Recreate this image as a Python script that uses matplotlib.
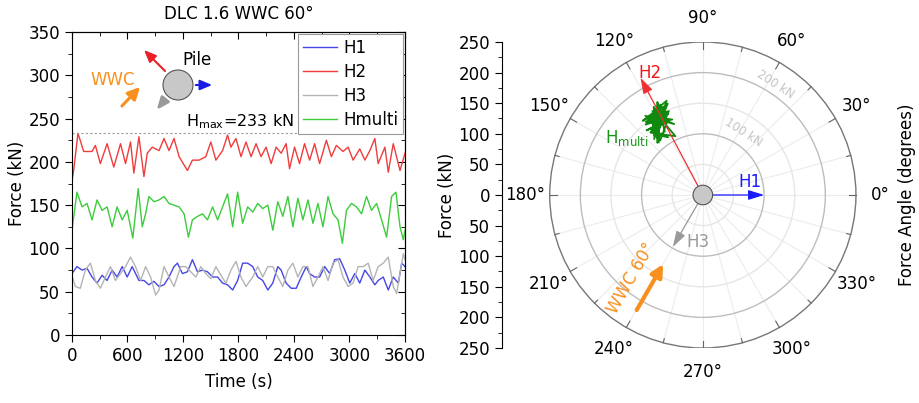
import numpy as np
import matplotlib
matplotlib.use("Agg")
import matplotlib.pyplot as plt
from matplotlib.patches import Circle

plt.rcParams['font.family'] = ['DejaVu Sans']
plt.rcParams['font.size'] = 12

# --- time series (time in s, force in kN) ---
t_h1 = [0, 54, 109, 163, 217, 271, 326, 380, 434, 488, 543, 597, 651, 724, 778, 832, 886, 941, 995, 1049,
        1103, 1140, 1194, 1248, 1302, 1357, 1411, 1465, 1520, 1574, 1628, 1682, 1737, 1791, 1845, 1899, 1954,
        2008, 2062, 2117, 2171, 2225, 2261, 2315, 2370, 2424, 2478, 2533, 2569, 2623, 2677, 2732, 2786, 2840,
        2894, 2949, 3003, 3057, 3111, 3166, 3220, 3274, 3310, 3365, 3419, 3473, 3528, 3564, 3600]
h1 = [71, 79, 75, 77, 67, 60, 69, 63, 75, 67, 79, 67, 79, 63, 63, 58, 62, 56, 58, 67,
      79, 83, 71, 73, 87, 73, 75, 73, 67, 67, 60, 58, 52, 63, 83, 83, 79, 67, 63, 52,
      60, 79, 75, 60, 54, 54, 67, 79, 71, 67, 67, 79, 71, 87, 88, 75, 60, 71, 60, 75,
      67, 58, 63, 67, 52, 67, 60, 83, 79]

t_h2 = [0, 18, 65, 127, 217, 253, 307, 380, 452, 525, 579, 633, 669, 724, 778, 814, 868, 941, 995, 1049,
        1103, 1158, 1248, 1302, 1375, 1447, 1501, 1556, 1628, 1682, 1718, 1773, 1827, 1881, 1936, 1990,
        2044, 2098, 2153, 2207, 2261, 2315, 2352, 2406, 2460, 2514, 2569, 2623, 2677, 2750, 2804, 2858,
        2930, 2985, 3039, 3111, 3166, 3220, 3274, 3310, 3383, 3419, 3473, 3546, 3600]
h2 = [178, 190, 233, 212, 212, 219, 198, 221, 194, 221, 198, 223, 187, 229, 183, 210, 217, 213, 227, 213,
      227, 206, 190, 202, 202, 206, 223, 202, 213, 231, 217, 227, 206, 223, 206, 221, 206, 217, 198, 217,
      210, 221, 192, 217, 198, 221, 202, 221, 198, 225, 206, 219, 212, 217, 202, 215, 202, 213, 227, 198,
      217, 188, 221, 190, 210]

t_h3 = [0, 36, 90, 145, 199, 253, 307, 362, 416, 470, 525, 579, 633, 687, 742, 796, 850, 905, 941, 995,
        1049, 1103, 1176, 1230, 1284, 1339, 1393, 1447, 1501, 1556, 1610, 1664, 1719, 1773, 1827, 1881,
        1954, 2008, 2062, 2117, 2171, 2225, 2279, 2334, 2388, 2442, 2496, 2551, 2605, 2659, 2713, 2768,
        2822, 2876, 2930, 2985, 3039, 3093, 3148, 3202, 3256, 3310, 3365, 3419, 3473, 3510, 3546, 3582, 3600]
h3 = [69, 56, 54, 75, 83, 63, 54, 67, 79, 63, 71, 79, 90, 79, 63, 79, 67, 46, 52, 79,
      67, 56, 79, 79, 73, 67, 79, 71, 65, 79, 69, 60, 75, 85, 67, 56, 67, 79, 67, 79,
      79, 67, 56, 75, 83, 67, 79, 79, 56, 67, 79, 63, 83, 87, 67, 56, 60, 79, 79, 83,
      63, 79, 83, 90, 56, 48, 71, 94, 87]

t_hm = [0, 54, 109, 163, 217, 271, 326, 380, 434, 488, 543, 597, 658, 716, 760, 796, 832, 886, 941, 995,
        1049, 1103, 1158, 1212, 1259, 1302, 1357, 1411, 1465, 1520, 1574, 1628, 1682, 1737, 1791, 1845,
        1899, 1954, 2008, 2062, 2117, 2171, 2225, 2279, 2334, 2388, 2442, 2496, 2551, 2605, 2659, 2713,
        2768, 2822, 2876, 2923, 2967, 3021, 3075, 3130, 3184, 3238, 3293, 3347, 3401, 3455, 3502, 3546,
        3582, 3600]
hm = [121, 165, 148, 152, 133, 156, 144, 148, 125, 148, 133, 144, 112, 169, 125, 140, 160, 154, 156, 160,
      152, 150, 148, 140, 113, 133, 137, 140, 133, 148, 133, 148, 163, 125, 165, 129, 148, 142, 152, 146,
      150, 121, 154, 137, 160, 125, 158, 133, 156, 129, 152, 125, 160, 140, 133, 106, 144, 152, 148, 140,
      160, 144, 152, 133, 113, 160, 165, 125, 110, 121]
# direction of the Hmulti resultant (degrees), same samples
hm_ang = [121, 116, 126, 119, 129, 114, 123, 117, 127, 121, 112, 125, 130, 116, 126, 119, 111, 123, 129, 115,
          121, 127, 113, 124, 128, 116, 122, 131, 119, 112, 127, 121, 115, 129, 119, 124, 113, 122, 128, 116,
          121, 131, 115, 126, 119, 129, 113, 124, 117, 128, 121, 112, 126, 122, 130, 115, 119, 124, 129, 116,
          121, 113, 126, 122, 131, 117, 111, 128, 121, 124]

h_max = 233
# mean force vectors on the polar plot: (angle deg, magnitude kN)
h1_vec = (0, 100)
h2_vec = (118, 217)
h3_vec = (240, 98)
wwc_dir = 60

c_h1, c_h2, c_h3, c_hm = '#4646e6', '#f03c3c', '#b4b4b4', '#3ccc3c'
orange = '#f7901e'

fig = plt.figure(figsize=(9.19, 4.03), dpi=100)

# ---------------- left: time series ----------------
ax = fig.add_axes([0.0783, 0.1687, 0.3624, 0.7519])
ax.plot(t_h1, h1, color=c_h1, lw=1.0, label='H1')
ax.plot(t_h2, h2, color=c_h2, lw=1.0, label='H2')
ax.plot(t_h3, h3, color=c_h3, lw=1.0, label='H3')
ax.plot(t_hm, hm, color=c_hm, lw=1.0, label='Hmulti')
ax.axhline(h_max, color='#999999', lw=0.8, ls=(0, (2, 2)))
ax.set_xlim(0, 3600)
ax.set_ylim(0, 350)
ax.set_xticks(range(0, 3601, 600))
ax.set_xticks(range(0, 3601, 300), minor=True)
ax.set_yticks(range(0, 351, 50))
ax.set_yticks(range(0, 351, 25), minor=True)
ax.tick_params(which='major', direction='out', length=5)
ax.tick_params(which='minor', direction='out', length=3)
ax.set_xlabel('Time (s)', labelpad=6)
ax.set_ylabel('Force (kN)', labelpad=2)
ax.set_title('DLC 1.6 WWC 60\u00b0', fontsize=12, pad=9)
sec = ax.secondary_xaxis('top')
sec.set_xticks(range(0, 3601, 600))
sec.set_xticks(range(0, 3601, 300), minor=True)
sec.tick_params(which='both', direction='in', labeltop=False)
sec.tick_params(which='major', length=5)
sec.tick_params(which='minor', length=3)
secy = ax.secondary_yaxis('right')
secy.set_yticks(range(0, 351, 50))
secy.set_yticks(range(0, 351, 25), minor=True)
secy.tick_params(which='both', direction='in', labelright=False)
secy.tick_params(which='major', length=5)
secy.tick_params(which='minor', length=3)

leg = ax.legend(loc='upper right', fancybox=False, edgecolor='#999999', framealpha=1,
                borderaxespad=0.1, handlelength=2.0, labelspacing=0.36, borderpad=0.3,
                handletextpad=0.4, fontsize=12)
leg.get_frame().set_linewidth(0.8)
ax.text(2400, 236, 'H$_{\\mathrm{max}}$=233 kN', ha='right', va='bottom', fontsize=11.5)

# pile sketch
ins = fig.add_axes([85 / 919, 1 - 125 / 403, 150 / 919, 90 / 403])
ins.set_xlim(0, 150)
ins.set_ylim(0, 90)
ins.axis('off')
ins.add_patch(Circle((93, 40), 15, facecolor='#c8c8c8', edgecolor='#555555', lw=0.8, zorder=3))
ins.annotate('', xy=(57, 77), xytext=(82, 52),
             arrowprops=dict(arrowstyle='-|>,head_length=0.6,head_width=0.25', color='#e8202a', lw=1.5))
ins.annotate('', xy=(130, 40), xytext=(108, 40),
             arrowprops=dict(arrowstyle='-|>,head_length=0.6,head_width=0.25', color='#1a1ae6', lw=1.5))
ins.annotate('', xy=(70, 13), xytext=(82, 28),
             arrowprops=dict(arrowstyle='-|>,head_length=0.6,head_width=0.25', color='#999999', lw=2))
ins.annotate('', xy=(57, 40), xytext=(35, 17),
             arrowprops=dict(arrowstyle='-|>,head_length=0.6,head_width=0.3', color=orange, lw=2.2))
ins.text(28, 45, 'WWC', color=orange, ha='center', va='center', fontsize=12)
ins.text(112, 65, 'Pile', color='black', ha='center', va='center', fontsize=12)

# ---------------- right: polar force plot ----------------
ax2 = fig.add_axes([0.5462, 0.1365, 0.4385, 0.7593])
ax2.set_xlim(-328, 330)
ax2.set_ylim(-250, 250)
for s in ('top', 'right', 'bottom'):
    ax2.spines[s].set_visible(False)
ax2.set_xticks([])
yt = list(range(-250, 251, 50))
ax2.set_yticks(yt)
ax2.set_yticklabels([str(abs(v)) for v in yt])
ax2.set_yticks(range(-250, 251, 25), minor=True)
ax2.tick_params(axis='y', which='major', direction='out', length=5)
ax2.tick_params(axis='y', which='minor', direction='out', length=3)
ax2.set_ylabel('Force (kN)', labelpad=2)

# grid
for a in range(0, 360, 15):
    r = np.deg2rad(a)
    ax2.plot([0, 250 * np.cos(r)], [0, 250 * np.sin(r)], color='#ececec', lw=0.8, zorder=1)
for rr, col in [(50, '#e6e6e6'), (150, '#e6e6e6'), (100, '#bdbdbd'), (200, '#bdbdbd'), (250, '#777777')]:
    ax2.add_patch(Circle((0, 0), rr, fill=False, edgecolor=col, lw=1.0, zorder=1))
for a in range(0, 360, 15):
    r = np.deg2rad(a)
    ln = 12 if a % 30 == 0 else 7
    ax2.plot([250 * np.cos(r), (250 - ln) * np.cos(r)], [250 * np.sin(r), (250 - ln) * np.sin(r)],
             color='#666666', lw=0.8, zorder=2)
for a in range(0, 360, 30):
    r = np.deg2rad(a)
    ax2.text(290 * np.cos(r), 290 * np.sin(r), f'{a}\u00b0', ha='center', va='center', fontsize=12)
for rr, lab in [(121, '100 kN'), (216, '200 kN')]:
    r = np.deg2rad(57)
    ax2.text(rr * np.cos(r), rr * np.sin(r), lab, rotation=-33, ha='center', va='center',
             fontsize=8.5, color='#c4c4c4')

# Hmulti trace
ang = np.deg2rad(hm_ang)
ax2.plot(np.array(hm) * np.cos(ang), np.array(hm) * np.sin(ang), color='#0f8a0f', lw=1.3, zorder=4)
ax2.text(-124, 93, 'H$_{\\mathrm{multi}}$', color='#189618', ha='center', va='center', fontsize=12)

ax2.add_patch(Circle((0, 0), 16, facecolor='#c8c8c8', edgecolor='#555555', lw=0.8, zorder=6))


def vec_arrow(angle, mag, color, lw=0.9):
    r = np.deg2rad(angle)
    ax2.annotate('', xy=(mag * np.cos(r), mag * np.sin(r)), xytext=(0, 0),
                 arrowprops=dict(arrowstyle='-|>,head_length=0.8,head_width=0.25', color=color, lw=lw,
                                 shrinkA=0, shrinkB=0), zorder=5)


vec_arrow(h1_vec[0], h1_vec[1], '#1a1aff')
vec_arrow(h2_vec[0], h2_vec[1], '#f03030')
vec_arrow(h3_vec[0], h3_vec[1], '#999999')
ax2.text(77, 21, 'H1', color='#1a1aff', ha='center', va='center', fontsize=12)
ax2.text(-87, 199, 'H2', color='#f01818', ha='center', va='center', fontsize=12)
ax2.text(-8, -77, 'H3', color='#999999', ha='center', va='center', fontsize=12)

w = np.deg2rad(wwc_dir)
ax2.annotate('', xy=(-108 + 140 * np.cos(w) * 0.62, -188 + 140 * np.sin(w) * 0.62), xytext=(-108, -188),
             arrowprops=dict(arrowstyle='-|>,head_length=0.6,head_width=0.3', color=orange, lw=3,
                             shrinkA=0, shrinkB=0), zorder=5)
ax2.text(-116, -136, 'WWC 60\u00b0', color=orange, rotation=wwc_dir, ha='center', va='center',
         fontsize=12)

ax2.text(1.005, 0.5, 'Force Angle (degrees)', transform=ax2.transAxes, rotation=90,
         ha='center', va='center', fontsize=12)

fig.savefig('out.png', dpi=100)
